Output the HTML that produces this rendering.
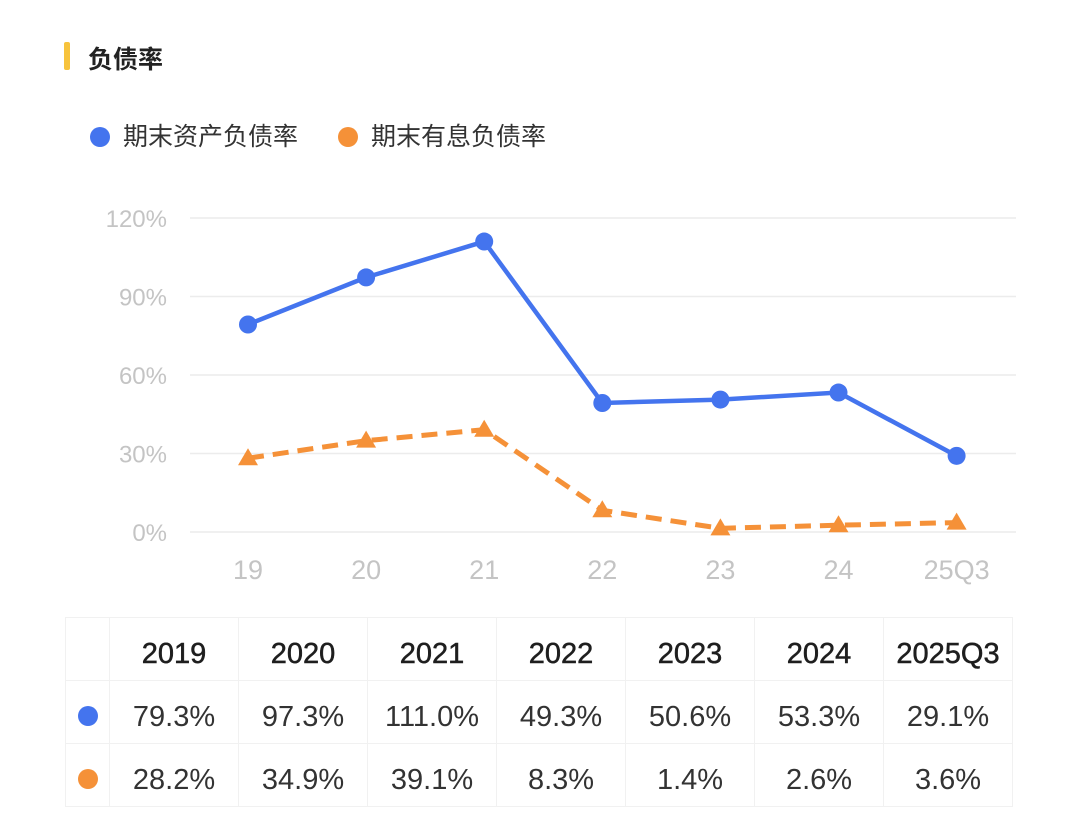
<!DOCTYPE html>
<html><head><meta charset="utf-8"><style>
body{margin:0;width:1080px;height:832px;background:#fff;font-family:"Liberation Sans","Noto Sans CJK SC",sans-serif;overflow:hidden;position:relative}
.t{position:absolute}
table{position:absolute;left:65px;top:617px;border-collapse:collapse}
td{border:1.5px solid #f1f1f1;height:63px;text-align:center;font-size:29px;color:#333;padding:10px 0 0 0;box-sizing:border-box}
tr:first-child td{color:#1e1e1e;-webkit-text-stroke:0.5px #1e1e1e}
</style></head><body>
<div class="t" style="left:64px;top:42px;width:6px;height:28px;background:#f7c33c;border-radius:2px"></div>
<div class="t" style="left:88px;top:40px;font-size:25px;color:#222;font-weight:bold">负债率</div>
<div class="t" style="left:90px;top:117px;font-size:25px;color:#333"><span style="display:inline-block;width:20px;height:20px;border-radius:50%;background:#4474ee;vertical-align:-2px;margin-right:13px"></span>期末资产负债率</div>
<div class="t" style="left:338px;top:117px;font-size:25px;color:#333"><span style="display:inline-block;width:20px;height:20px;border-radius:50%;background:#f59138;vertical-align:-2px;margin-right:13px"></span>期末有息负债率</div>
<svg class="t" style="left:0;top:0" width="1080" height="600" id="chart"></svg>
<table>
<tr><td style="width:44px"></td><td style="width:129px">2019</td><td style="width:129px">2020</td><td style="width:129px">2021</td><td style="width:129px">2022</td><td style="width:129px">2023</td><td style="width:129px">2024</td><td style="width:129px">2025Q3</td></tr>
<tr><td><span style="display:inline-block;width:20px;height:20px;border-radius:50%;background:#4474ee"></span></td><td>79.3%</td><td>97.3%</td><td>111.0%</td><td>49.3%</td><td>50.6%</td><td>53.3%</td><td>29.1%</td></tr>
<tr><td><span style="display:inline-block;width:20px;height:20px;border-radius:50%;background:#f59138"></span></td><td>28.2%</td><td>34.9%</td><td>39.1%</td><td>8.3%</td><td>1.4%</td><td>2.6%</td><td>3.6%</td></tr>
</table>
<script>
const categories=["19","20","21","22","23","24","25Q3"];
const assetRatio=[79.3,97.3,111.0,49.3,50.6,53.3,29.1];
const interestRatio=[28.2,34.9,39.1,8.3,1.4,2.6,3.6];
const yTicks=[0,30,60,90,120];
const svg=document.getElementById('chart');
const NS='http://www.w3.org/2000/svg';
const x=i=>248+i*118.1;
const y=v=>532-v*(314/120);
function mk(t,a){const e=document.createElementNS(NS,t);for(const k in a)e.setAttribute(k,a[k]);svg.appendChild(e);return e;}
yTicks.forEach(v=>{
 const l=mk('line',{x1:190,x2:1016,y1:y(v),y2:y(v),stroke:'#ececec','stroke-width':1.5});
 
 
 const t=mk('text',{x:167,y:y(v)+9,'text-anchor':'end','font-size':24,fill:'#c4c4c4','font-family':'Liberation Sans'});
 t.textContent=v+'%';
 
 
});
categories.forEach((c,i)=>{
 const t=mk('text',{x:x(i),y:579,'text-anchor':'middle','font-size':27,fill:'#c4c4c4','font-family':'Liberation Sans'});
 t.textContent=c;
 
 
});
const p2=mk('polyline',{points:interestRatio.map((v,i)=>x(i)+','+y(v)).join(' '),fill:'none',stroke:'#f59138','stroke-width':5,'stroke-dasharray':'16 9'});


interestRatio.forEach((v,i)=>{
 const cx=x(i),cy=y(v);
 const m=mk('polygon',{points:`${cx},${cy-10} ${cx-10},${cy+7} ${cx+10},${cy+7}`,fill:'#f59138'});
 
 
});
const p1=mk('polyline',{points:assetRatio.map((v,i)=>x(i)+','+y(v)).join(' '),fill:'none',stroke:'#4474ee','stroke-width':4.5});


assetRatio.forEach((v,i)=>{
 const m=mk('circle',{cx:x(i),cy:y(v),r:9,fill:'#4474ee'});
 
 
});
</script>
</body></html>
